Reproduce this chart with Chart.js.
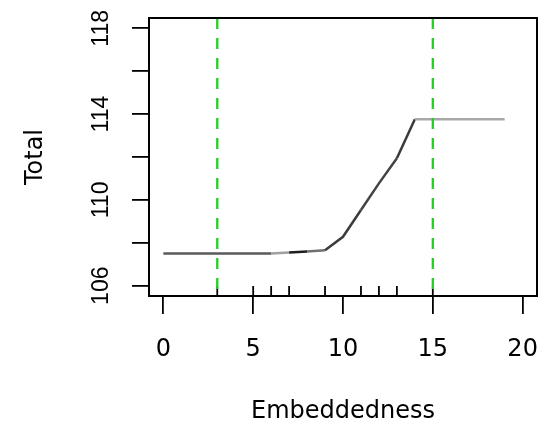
<!DOCTYPE html>
<html lang="en">
<head>
<meta charset="UTF-8">
<title>Total vs Embeddedness</title>
<style>
  html, body { margin: 0; padding: 0; background: #fff; }
  #wrap { width: 546px; height: 427px; position: relative; }
</style>
</head>
<body>
<div id="wrap"><canvas id="chart"></canvas></div>
<script src="https://cdn.jsdelivr.net/npm/chart.js"></script>
<script>
// Data
const xValues = [0, 1, 2, 3, 4, 5, 6, 7, 8, 9, 10, 11, 12, 13, 14, 15, 16, 17, 18, 19];
const totalValues = [107.5, 107.5, 107.5, 107.5, 107.5, 107.5, 107.5, 107.55, 107.6, 107.65,
  108.28, 109.53, 110.77, 111.94, 113.76, 113.76, 113.76, 113.76, 113.76, 113.76];
// grey level of each segment (segment i runs from point i to point i+1)
const segmentColors = ['#5a5a5a', '#5a5a5a', '#5a5a5a', '#5a5a5a', '#5a5a5a', '#5a5a5a',
  '#a0a0a0', '#1e1e1e', '#707070', '#3c3c3c', '#3c3c3c', '#444444', '#444444', '#3a3a3a',
  '#a8a8a8', '#a8a8a8', '#a8a8a8', '#a8a8a8', '#a8a8a8'];
const rugX = [3, 5, 6, 7, 9, 11, 12, 13, 15];
const cutoffX = [3, 15];
const xTicks = [0, 5, 10, 15, 20];
const yTicks = [106, 108, 110, 112, 114, 116, 118];
const yLabelled = [106, 110, 114, 118];
const xRange = [-0.8, 20.8];
const yRange = [105.52, 118.48];

const FONT = "'DejaVu Sans', sans-serif";

// rug, green cut-off lines and plot box
const extrasPlugin = {
  id: 'extras',
  beforeDatasetsDraw(chart) {
    const { ctx, chartArea, scales } = chart;
    ctx.save();
    ctx.strokeStyle = '#000';
    ctx.lineWidth = 1.8;
    rugX.forEach(v => {
      const px = scales.x.getPixelForValue(v);
      ctx.beginPath();
      ctx.moveTo(px, chartArea.bottom);
      ctx.lineTo(px, chartArea.bottom - 10);
      ctx.stroke();
    });
    ctx.restore();
  },
  afterDatasetsDraw(chart) {
    const { ctx, chartArea, scales } = chart;
    ctx.save();
    ctx.strokeStyle = '#22d022';
    ctx.lineWidth = 2.3;
    ctx.setLineDash([11, 9]);
    cutoffX.forEach(v => {
      const px = scales.x.getPixelForValue(v);
      ctx.beginPath();
      ctx.moveTo(px, chartArea.top);
      ctx.lineTo(px, chartArea.bottom);
      ctx.stroke();
    });
    ctx.restore();
  },
  afterDraw(chart) {
    const { ctx, chartArea } = chart;
    ctx.save();
    ctx.strokeStyle = '#000';
    ctx.lineWidth = 2;
    ctx.strokeRect(chartArea.left, chartArea.top,
      chartArea.right - chartArea.left, chartArea.bottom - chartArea.top);
    ctx.restore();
  }
};

new Chart(document.getElementById('chart'), {
  type: 'line',
  data: {
    datasets: [{
      label: 'Total',
      data: xValues.map((x, i) => ({ x: x, y: totalValues[i] })),
      borderColor: '#555',
      borderWidth: 2.5,
      pointRadius: 0,
      tension: 0,
      segment: { borderColor: c => segmentColors[c.p0DataIndex] }
    }]
  },
  options: {
    responsive: true,
    maintainAspectRatio: false,
    animation: false,
    devicePixelRatio: 1,
    layout: { padding: { top: 18, right: 9, left: 0, bottom: 0 } },
    plugins: { legend: { display: false }, tooltip: { enabled: false } },
    scales: {
      x: {
        type: 'linear',
        min: xRange[0],
        max: xRange[1],
        afterBuildTicks: s => { s.ticks = xTicks.map(v => ({ value: v })); },
        afterFit: s => { s.height = 131; s.paddingLeft = 0; s.paddingRight = 0; },
        border: { display: false },
        grid: { drawOnChartArea: false, drawTicks: true, tickLength: 18, color: '#000', lineWidth: 1.8 },
        ticks: { autoSkip: false, maxRotation: 0, padding: 21, color: '#000',
          font: { family: FONT, size: 24 } },
        title: { display: true, text: 'Embeddedness', color: '#000',
          font: { family: FONT, size: 24 }, padding: { top: 0, bottom: 1 } }
      },
      y: {
        type: 'linear',
        min: yRange[0],
        max: yRange[1],
        afterBuildTicks: s => { s.ticks = yTicks.map(v => ({ value: v })); },
        afterFit: s => { s.width = 149; s.paddingTop = 0; s.paddingBottom = 0; },
        border: { display: false },
        grid: { drawOnChartArea: false, drawTicks: true, tickLength: 17, color: '#000', lineWidth: 1.8 },
        ticks: {
          autoSkip: false, minRotation: 90, maxRotation: 90, crossAlign: 'center', padding: 11,
          color: '#000', font: { family: "'Liberation Sans', Arial, sans-serif", size: 23 },
          callback: v => yLabelled.includes(v) ? String(v) : ''
        },
        title: { display: true, text: 'Total', color: '#000',
          font: { family: FONT, size: 24 }, padding: { top: 21, bottom: 0 } }
      }
    }
  },
  plugins: [extrasPlugin]
});
</script>
</body>
</html>
